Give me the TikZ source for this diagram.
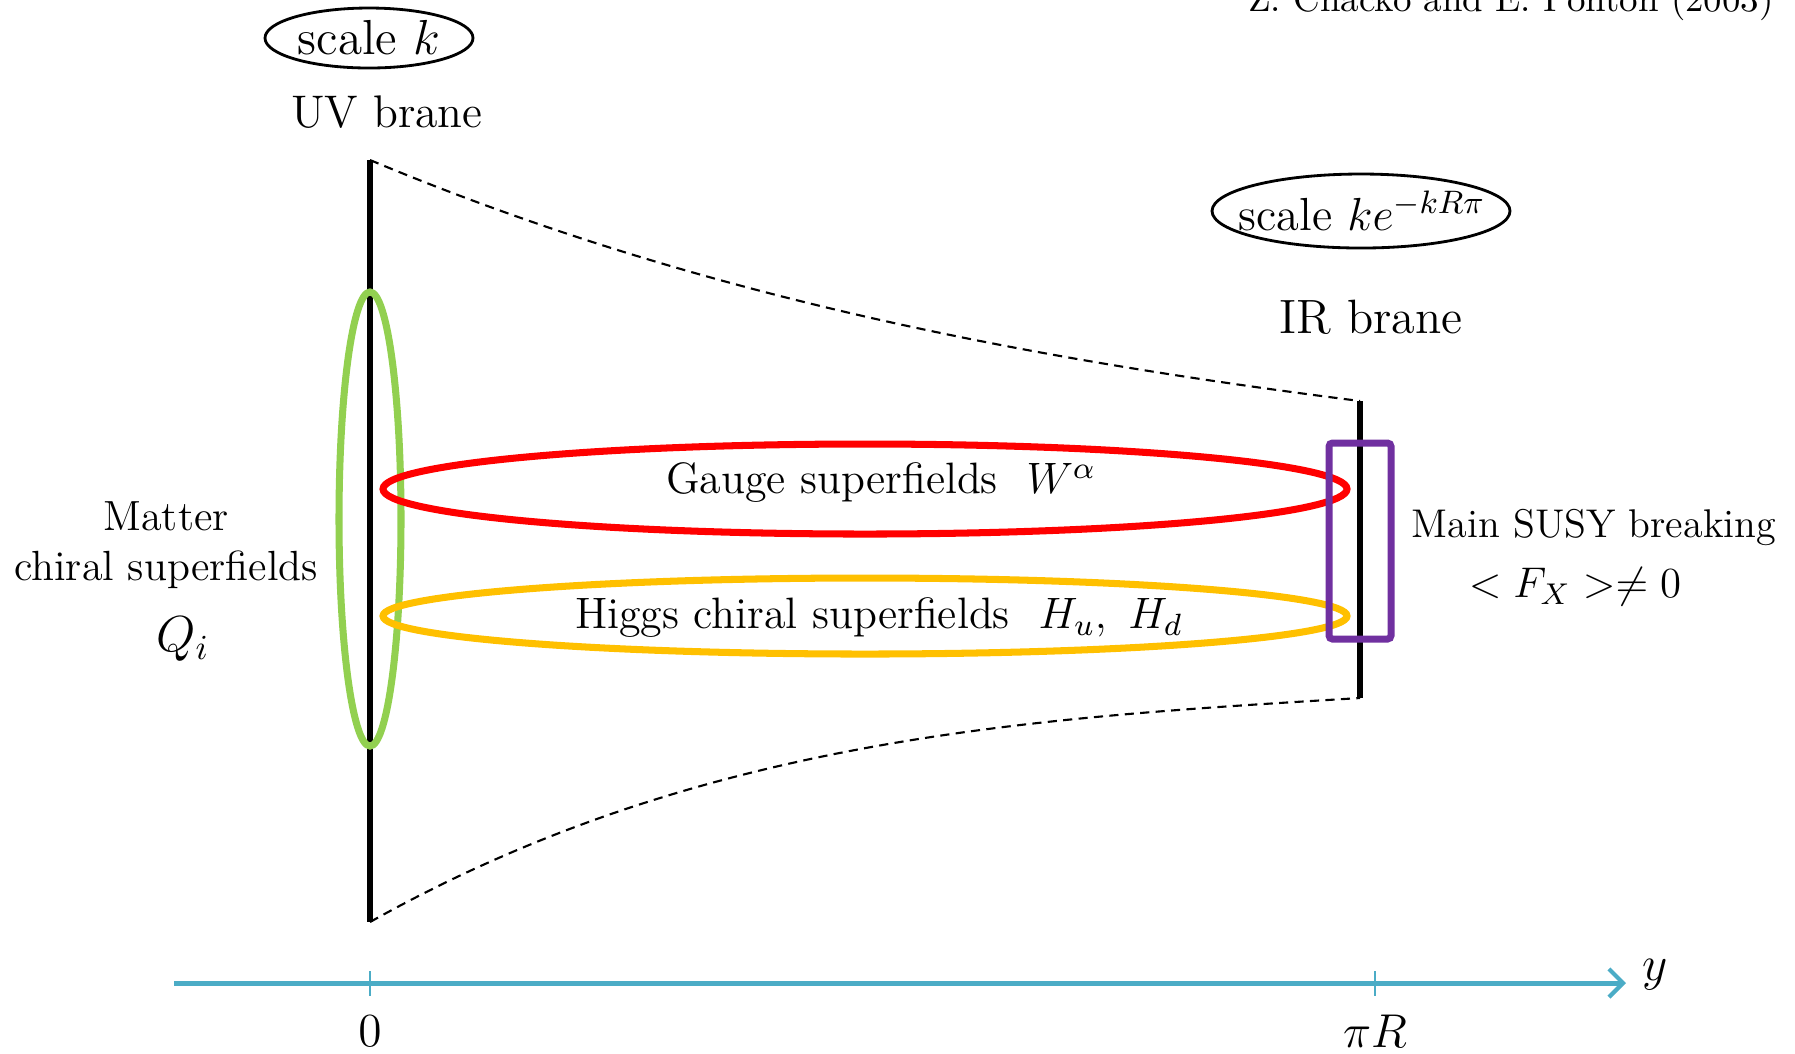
\RequirePackage{fix-cm}
\documentclass[tikz,border=0pt]{standalone}
\usetikzlibrary{arrows.meta}
\definecolor{axisblue}{HTML}{4BACC6}
\definecolor{mattergreen}{HTML}{92D050}
\definecolor{gaugered}{HTML}{FF0000}
\definecolor{higgsgold}{HTML}{FFC000}
\definecolor{susypurple}{HTML}{7030A0}
\newcommand{\fs}[1]{\fontsize{#1}{1.2\dimexpr#1pt\relax}\selectfont}

\begin{document}
\begin{tikzpicture}[x=0.01cm,y=-0.01cm,
    brane/.style={line width=1.8pt},
    warp/.style={line width=0.6pt,dash pattern=on 2.6pt off 1.8pt},
    field/.style={line width=2pt},
    scaleline/.style={line width=0.8pt},
    axis/.style={axisblue,line width=1.4pt},
    tick/.style={axisblue,line width=0.7pt}]
  \useasboundingbox (0,0) rectangle (1795,1053);

  % branes and the warped bulk
  \coordinate (uvtop) at (370,160);
  \coordinate (uvbot) at (370,922);
  \coordinate (irtop) at (1360,401);
  \coordinate (irbot) at (1360,698);
  \draw[warp] (uvtop) .. controls +(330,138) and +(-330,-42) .. (irtop);
  \draw[warp] (uvbot) .. controls +(330,-185) and +(-330,20) .. (irbot);
  \draw[brane] (uvtop) -- (uvbot);
  \draw[brane] (irtop) -- (irbot);

  % fields
  \draw[field,mattergreen] (370,519) ellipse [x radius=31,y radius=227];
  \draw[field,gaugered] (865,489) ellipse [x radius=482,y radius=45];
  \draw[field,higgsgold] (865,616) ellipse [x radius=482,y radius=38];
  \draw[field,susypurple,rounded corners=1pt] (1329,443) rectangle (1391,639);

  \node[font=\fs{12.5}] (gauge) at (881,483) {Gauge superfields\ \ $W^{\alpha}$};
  \node[font=\fs{12.5}] (higgs) at (879,618) {Higgs chiral superfields\ \ $H_u,\ H_d$};
  \node[font=\fs{12},align=center] (matter) at (166,545) {Matter\\chiral superfields};
  \node[font=\fs{14.4}] (qi) at (183,639) {$Q_i$};
  \node[font=\fs{11.4}] (susy) at (1594,527) {Main SUSY breaking};
  \node[font=\fs{12.2}] (fx) at (1575,587) {$<F_X>\neq 0$};

  % brane labels
  \node[font=\fs{14}] (uvscale) at (369,38) {scale $k$};
  \draw[scaleline] (uvscale.center) ellipse [x radius=104,y radius=30];
  \node[font=\fs{13}] (uvlabel) at (387,112) {UV brane};
  \node[font=\fs{13.2}] (irscale) at (1362,211) {scale $ke^{-kR\pi}$};
  \draw[scaleline] (1361,211) ellipse [x radius=149,y radius=37];
  \node[font=\fs{13.7}] (irlabel) at (1371,317) {IR brane};

  % y axis
  \coordinate (ystart) at (174,983);
  \coordinate (yend) at (1626,983);
  \draw[axis,-{Straight Barb[length=4pt,width=8pt,line width=1.2pt]}] (ystart) -- (yend);
  \node[font=\fs{14},anchor=west] (ylabel) at (1630,975) {$y$};
  \foreach \x/\name/\txt in {370/zero/$0$, 1375/pir/$\pi R$} {
    \draw[tick] (\x,971) -- (\x,996);
    \node[font=\fs{13.5}] (\name) at (\x,1031) {\txt};
  }

  \node[font=\fs{10.5},anchor=base east] (cite) at (1786,11) {Z. Chacko and E. Ponton (2003)};
\end{tikzpicture}
\end{document}
